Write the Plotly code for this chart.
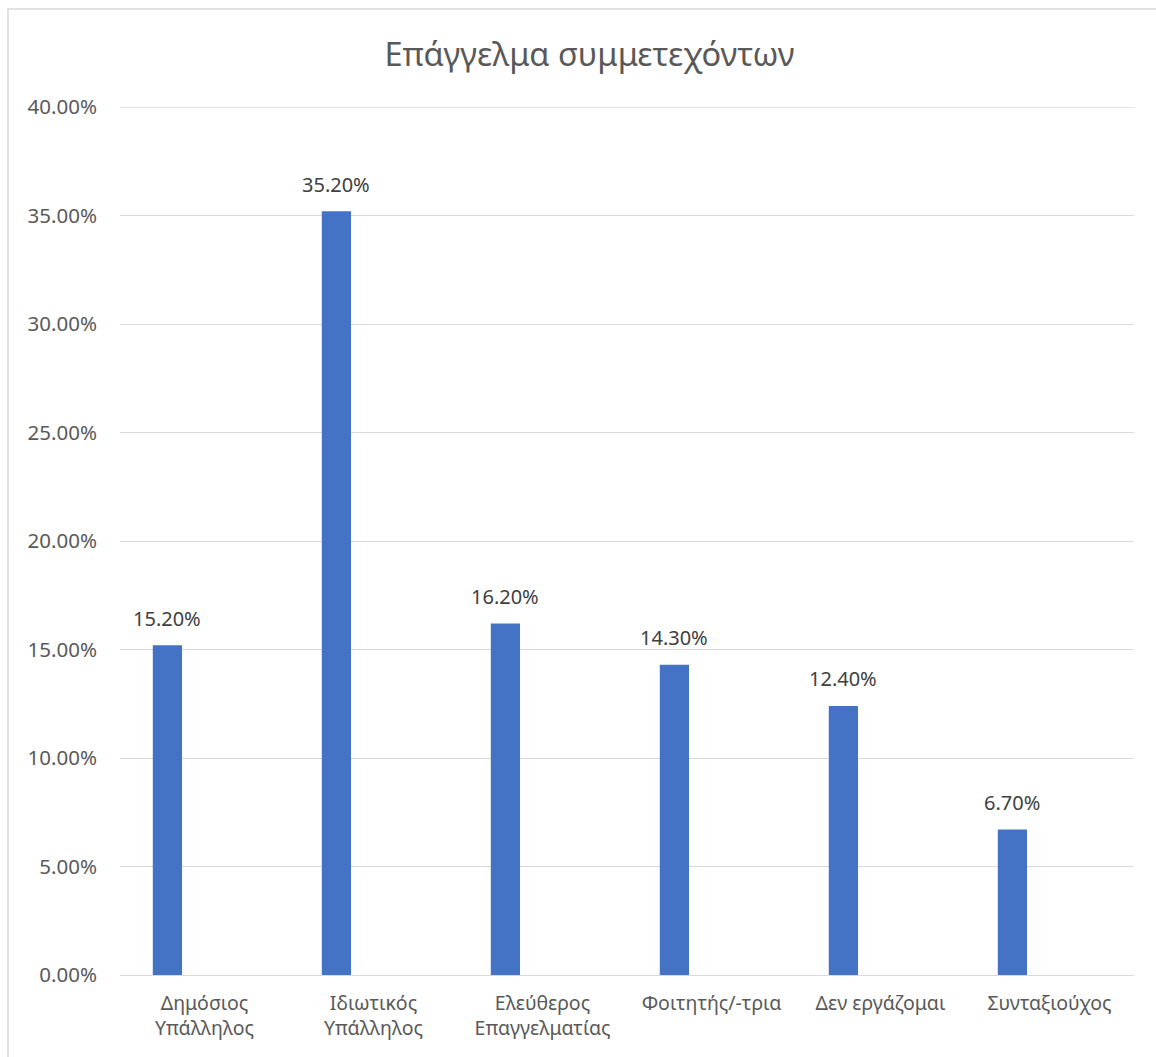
import plotly.graph_objects as go

categories = ["Δημόσιος<br>Υπάλληλος", "Ιδιωτικός<br>Υπάλληλος", "Ελεύθερος<br>Επαγγελματίας",
              "Φοιτητής/-τρια", "Δεν εργάζομαι", "Συνταξιούχος"]
values = [15.2, 35.2, 16.2, 14.3, 12.4, 6.7]
y_ticks = [0, 5, 10, 15, 20, 25, 30, 35, 40]

FONT = "Noto Sans"
BAR_W = 0.173
BAR_OFF = -0.306
CAT_PX = 1014 / len(categories)

fig = go.Figure()
fig.add_trace(go.Bar(
    x=categories, y=values,
    marker=dict(color="#4472C4", line=dict(width=0)),
    width=BAR_W, offset=BAR_OFF,
    cliponaxis=False,
))

annotations = [dict(x=c, y=v, xref="x", yref="y", text=f"{v:.2f}%", showarrow=False,
                    xanchor="center", yanchor="middle",
                    xshift=(BAR_OFF + BAR_W / 2) * CAT_PX, yshift=27,
                    font=dict(family=FONT, size=20, color="#404040"))
               for c, v in zip(categories, values)]

fig.update_layout(
    width=1156, height=1057,
    margin=dict(l=120, r=22, t=107, b=82),
    paper_bgcolor="white", plot_bgcolor="white",
    showlegend=False,
    annotations=annotations,
    title=dict(text="Επάγγελμα συμμετεχόντων", x=0.51, xref="container",
               xanchor="center", y=1 - 55 / 1057, yanchor="middle", yref="container",
               font=dict(family=FONT, size=32.5, color="#595959")),
    xaxis=dict(showgrid=False, showline=False, ticks="", zeroline=False,
               tickfont=dict(family=FONT, size=19.5, color="#595959"),
               ticklabelstandoff=14),
    yaxis=dict(range=[0, 40], tickvals=y_ticks, ticktext=[f"{t:.2f}%" for t in y_ticks],
               showgrid=True, gridcolor="#d9d9d9", gridwidth=1.3,
               zeroline=True, zerolinecolor="#d9d9d9", zerolinewidth=1.3,
               showline=False, ticks="",
               tickfont=dict(family=FONT, size=20.5, color="#595959"),
               ticklabelstandoff=22),
    shapes=[dict(type="rect", xref="paper", yref="paper",
                 x0=(8 - 120) / 1014, x1=1.2, y0=-0.3, y1=(974.5 - 9) / 867.5,
                 line=dict(color="#d9d9d9", width=1.5), fillcolor="rgba(0,0,0,0)",
                 layer="below"),
            dict(type="line", xref="paper", yref="y", x0=0, x1=1,
                 y0=y_ticks[-1], y1=y_ticks[-1],
                 line=dict(color="#d9d9d9", width=1.3), layer="below")],
)

fig.write_html("out.html")
